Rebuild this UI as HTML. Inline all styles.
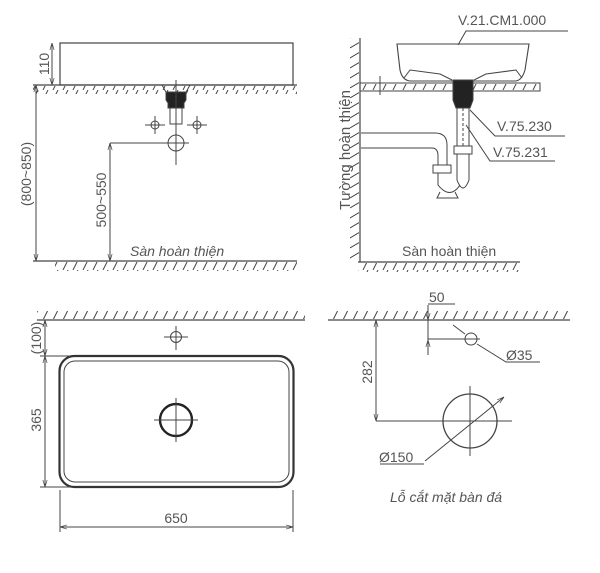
<!DOCTYPE html>
<html><head><meta charset="utf-8"><style>
html,body{margin:0;padding:0;background:#fff;width:600px;height:573px;overflow:hidden}
svg{display:block}
text{font-family:"Liberation Sans",sans-serif;fill:#555}
</style></head><body>
<svg width="600" height="573" viewBox="0 0 600 573" xmlns="http://www.w3.org/2000/svg">
<defs>
<pattern id="hb" width="10" height="10" patternUnits="userSpaceOnUse"><path d="M8 0 L3 10" stroke="#444" stroke-width="1"/></pattern>
<pattern id="hl" width="10" height="10" patternUnits="userSpaceOnUse"><path d="M10 2 L0 8" stroke="#444" stroke-width="1"/></pattern>
<marker id="a" viewBox="0 0 10 10" refX="10" refY="5" markerWidth="7" markerHeight="7" orient="auto-start-reverse"><path d="M0 2 L10 5 L0 8" fill="none" stroke="#444"/></marker>
</defs>
<g stroke="#444" fill="none" stroke-width="1">
<!-- TOP LEFT -->
<rect x="60" y="43" width="233" height="42" stroke-width="1.2"/>
<line x1="33" y1="85" x2="297" y2="85" stroke-width="1.2"/>
<rect x="33" y="86" width="264" height="8" fill="url(#hb)" stroke="none"/>
<line x1="52" y1="43" x2="52" y2="85" marker-start="url(#a)" marker-end="url(#a)"/>
<line x1="36" y1="85" x2="36" y2="261" marker-start="url(#a)" marker-end="url(#a)"/>
<line x1="33" y1="261" x2="297" y2="261" stroke-width="1.2"/>
<rect x="55" y="262" width="242" height="9" fill="url(#hb)" stroke="none"/>
<path d="M162 85 L167 94 M190 85 L185 94"/>
<path d="M166 92 H186 V100 L184 103 V108 H168 V103 L166 100Z" fill="#222"/>
<rect x="170" y="108" width="12" height="16"/>
<line x1="176" y1="80" x2="176" y2="165"/>
<circle cx="155" cy="125" r="4"/><path d="M145 125 H165 M155 116 V134"/>
<circle cx="197" cy="125" r="4"/><path d="M187 125 H207 M197 116 V134"/>
<circle cx="176" cy="143" r="8"/><path d="M163 143 H189"/>
<line x1="110" y1="143" x2="168" y2="143"/>
<line x1="110" y1="143" x2="110" y2="261" marker-start="url(#a)" marker-end="url(#a)"/>
<!-- TOP RIGHT -->
<line x1="360" y1="38" x2="360" y2="262" stroke-width="1.2"/>
<rect x="350" y="38" width="9" height="224" fill="url(#hl)" stroke="none"/>
<line x1="358" y1="262" x2="520" y2="262" stroke-width="1.2"/>
<rect x="358" y="263" width="162" height="9" fill="url(#hb)" stroke="none"/>
<rect x="360" y="83" width="180" height="8"/>
<rect x="361" y="84" width="178" height="6" fill="url(#hb)" stroke="none"/>
<path d="M397 44 H529 L525 70 Q522 80 516 81 H410 Q402 80 400 70Z" stroke-width="1.1"/>
<path d="M404 78 L410 70 L440 74 L452 80 M522 78 L516 70 L486 74 L474 80"/>
<line x1="380" y1="76" x2="380" y2="95"/>
<path d="M453 80 H473 V100 L470 108 H456 L453 100Z" fill="#222"/>
<rect x="457" y="108" width="12" height="38"/>
<line x1="463" y1="108" x2="463" y2="146" stroke-dasharray="3 2"/>
<path d="M454 146 H472 V154 H454Z"/>
<path d="M457 154 V180 Q463 196 469 180 V154"/>
<path d="M361 133 H435 Q447 133 447 145 V165 M361 148 H432 Q438 148 438 156 V165"/>
<rect x="433" y="165" width="18" height="8"/>
<path d="M438 173 V185 Q450 200 460 185"/>
<path d="M440 192 L437 198 H458 L455 192"/>
<path d="M458 45 L466 31 H568"/>
<path d="M470 110 L495 136 H565"/>
<path d="M466 125 L490 161 H555"/>
<!-- BOTTOM LEFT -->
<line x1="37" y1="320" x2="305" y2="320" stroke-width="1.2"/>
<rect x="37" y="311" width="268" height="8" fill="url(#hb)" stroke="none"/>
<circle cx="176" cy="337" r="5.5"/><path d="M164 337 H188 M176 326 V350"/>
<rect x="59.5" y="356" width="234" height="131" rx="15" stroke-width="2.2" stroke="#333"/>
<rect x="64" y="361" width="225" height="121" rx="11" stroke-width="1"/>
<circle cx="176" cy="420" r="16" stroke-width="2.4" stroke="#222"/><path d="M154 420 H198 M176 398 V442"/>
<line x1="45" y1="320" x2="45" y2="356" marker-start="url(#a)" marker-end="url(#a)"/>
<line x1="45" y1="356" x2="45" y2="487" marker-start="url(#a)" marker-end="url(#a)"/>
<path d="M40 356 H70 M40 487 H70"/>
<path d="M60 490 V532 M293 490 V532"/>
<line x1="60" y1="527" x2="293" y2="527" marker-start="url(#a)" marker-end="url(#a)"/>
<!-- BOTTOM RIGHT -->
<line x1="328" y1="320" x2="570" y2="320" stroke-width="1.2"/>
<rect x="328" y="311" width="242" height="8" fill="url(#hb)" stroke="none"/>
<path d="M428 304 H455"/>
<line x1="428" y1="305" x2="428" y2="320" marker-end="url(#a)"/>
<line x1="428" y1="355" x2="428" y2="340" marker-end="url(#a)"/>
<line x1="428" y1="320" x2="428" y2="340"/>
<line x1="428" y1="339" x2="480" y2="339"/>
<circle cx="471" cy="339" r="6"/>
<path d="M453 325 L465 334 M477 344 L506 362 H540"/>
<line x1="376" y1="320" x2="376" y2="421" marker-start="url(#a)" marker-end="url(#a)"/>
<line x1="376" y1="421" x2="512" y2="421"/>
<circle cx="470" cy="421" r="27" stroke-width="1.3"/>
<line x1="470" y1="386" x2="470" y2="456"/>
<path d="M425 461 L504 397" marker-end="url(#a)"/>
<path d="M380 464 H424"/>
</g>
<g>
<text x="0" y="0" font-size="14" transform="translate(49,64) rotate(-90)" text-anchor="middle">110</text>
<text x="0" y="0" font-size="14" transform="translate(31,174) rotate(-90)" text-anchor="middle">(800~850)</text>
<text x="0" y="0" font-size="14" transform="translate(106,200) rotate(-90)" text-anchor="middle">500~550</text>
<text x="130" y="256" font-size="14" font-style="italic">Sàn hoàn thiện</text>
<text x="458" y="25" font-size="14">V.21.CM1.000</text>
<text x="497" y="131" font-size="14">V.75.230</text>
<text x="493" y="157" font-size="14">V.75.231</text>
<text x="0" y="0" font-size="15" transform="translate(350,150) rotate(-90)" text-anchor="middle">Tường hoàn thiện</text>
<text x="402" y="256" font-size="14">Sàn hoàn thiện</text>
<text x="0" y="0" font-size="14" transform="translate(41,338) rotate(-90)" text-anchor="middle">(100)</text>
<text x="0" y="0" font-size="14" transform="translate(41,420) rotate(-90)" text-anchor="middle">365</text>
<text x="176" y="523" font-size="14" text-anchor="middle">650</text>
<text x="429" y="302" font-size="14">50</text>
<text x="506" y="360" font-size="14">Ø35</text>
<text x="0" y="0" font-size="14" transform="translate(372,372) rotate(-90)" text-anchor="middle">282</text>
<text x="379" y="462" font-size="14">Ø150</text>
<text x="390" y="502" font-size="14" font-style="italic">Lỗ cắt mặt bàn đá</text>
</g>
</svg>
</body></html>
